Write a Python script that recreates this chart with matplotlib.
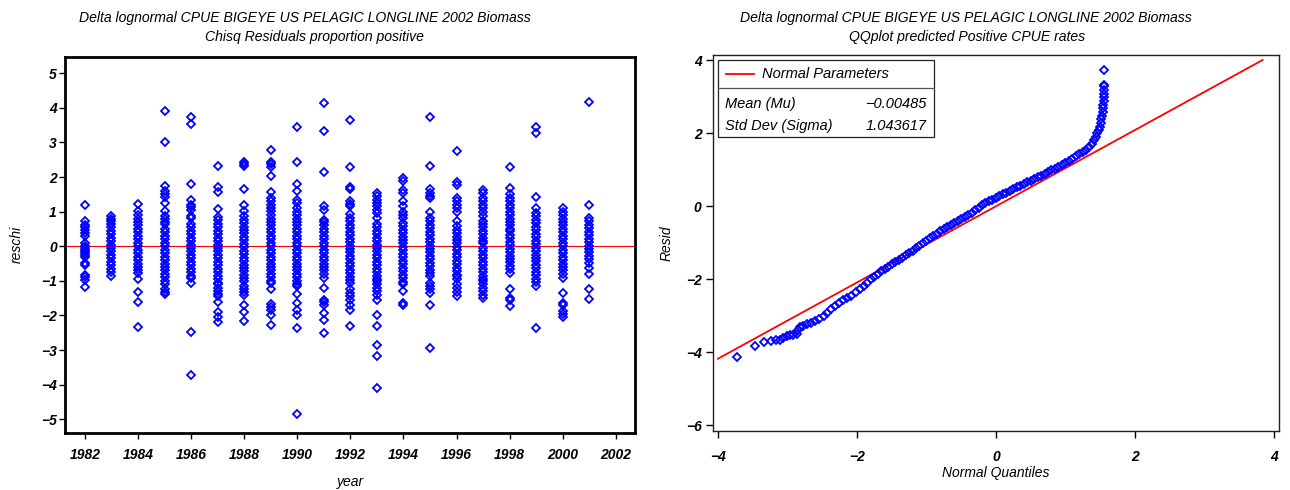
"""
Delta lognormal CPUE, bigeye US pelagic longline 2002:
  left  - chi-square residuals of proportion positive by year
  right - QQ plot of predicted positive CPUE rates
"""

import matplotlib

matplotlib.use("Agg")
import matplotlib.pyplot as plt
from matplotlib.lines import Line2D
from matplotlib.patches import Rectangle

plt.rcParams.update(
    {
        "font.family": ["Liberation Sans", "DejaVu Sans"],
        "font.style": "italic",
        "font.size": 9.5,
        "axes.unicode_minus": True,
    }
)

OUT_PNG = "out.png"
BLUE = "#0000ff"
RED = "#ff0000"

# ---- left panel: reschi by year ----
YEARS = list(range(1982, 2002))
RESCHI_1982 = [1.18, 0.72, 0.62, 0.55, 0.48, 0.38, 0.30, 0.10, 0.02, -0.05, -0.10, -0.15, -0.20, -0.25,
               -0.30, -0.48, -0.55, -0.82, -0.88, -0.98, -1.18]
RESCHI_1983 = [0.87, 0.80, 0.72, 0.65, 0.55, 0.45, 0.35, 0.25, 0.15, 0.05, -0.05, -0.15, -0.25, -0.35,
               -0.45, -0.55, -0.65, -0.75, -0.87]
RESCHI_1984 = [1.23, 1.03, 0.90, 0.80, 0.70, 0.60, 0.50, 0.40, 0.30, 0.20, 0.10, 0.00, -0.10, -0.20,
               -0.30, -0.40, -0.50, -0.60, -0.70, -0.77, -0.96, -1.33, -1.60, -2.34]
RESCHI_1985 = [3.92, 3.00, 1.75, 1.60, 1.50, 1.42, 1.25, 1.01, 0.87, 0.78, 0.70, 0.63, 0.50, 0.40, 0.30,
               0.20, 0.10, 0.00, -0.10, -0.20, -0.30, -0.40, -0.50, -0.60, -0.70, -0.80, -0.90, -1.00,
               -1.10, -1.25, -1.31, -1.37]
RESCHI_1986 = [3.74, 3.52, 1.80, 1.35, 1.20, 1.13, 1.06, 0.87, 0.82, 0.63, 0.55, 0.45, 0.35, 0.25, 0.15,
               0.05, -0.05, -0.15, -0.25, -0.35, -0.45, -0.55, -0.65, -0.75, -0.85, -0.91, -1.06, -2.47,
               -3.72]
RESCHI_1987 = [2.33, 1.71, 1.56, 1.09, 0.85, 0.75, 0.65, 0.55, 0.45, 0.35, 0.25, 0.15, 0.05, -0.05, -0.15,
               -0.25, -0.35, -0.45, -0.55, -0.65, -0.75, -0.85, -0.95, -1.05, -1.10, -1.20, -1.30, -1.38,
               -1.44, -1.62, -1.91, -2.05, -2.19]
RESCHI_1988 = [2.43, 2.37, 2.31, 1.65, 1.20, 1.01, 0.87, 0.77, 0.67, 0.57, 0.47, 0.37, 0.27, 0.17, 0.07,
               -0.03, -0.13, -0.23, -0.33, -0.43, -0.53, -0.63, -0.73, -0.83, -0.93, -1.00, -1.16, -1.25,
               -1.33, -1.40, -1.69, -1.90, -2.15]
RESCHI_1989 = [2.77, 2.44, 2.37, 2.30, 2.04, 1.56, 1.40, 1.30, 1.20, 1.10, 1.01, 0.90, 0.80, 0.70, 0.60,
               0.50, 0.40, 0.30, 0.20, 0.10, 0.00, -0.10, -0.20, -0.30, -0.40, -0.50, -0.60, -0.70, -0.80,
               -0.90, -1.00, -1.06, -1.25, -1.67, -1.75, -1.85, -1.98, -2.28]
RESCHI_1990 = [3.45, 2.43, 1.80, 1.61, 1.35, 1.25, 1.10, 1.00, 0.90, 0.80, 0.70, 0.60, 0.50, 0.40, 0.30,
               0.20, 0.10, 0.00, -0.10, -0.20, -0.30, -0.40, -0.50, -0.60, -0.70, -0.80, -0.90, -1.00,
               -1.10, -1.16, -1.37, -1.64, -1.83, -2.00, -2.36, -4.86]
RESCHI_1991 = [4.13, 3.32, 2.14, 1.15, 1.06, 0.77, 0.70, 0.60, 0.50, 0.40, 0.30, 0.20, 0.10, 0.00, -0.10,
               -0.20, -0.30, -0.40, -0.50, -0.60, -0.70, -0.80, -0.91, -1.20, -1.54, -1.62, -1.69, -1.93,
               -2.14, -2.50]
RESCHI_1992 = [3.66, 2.30, 1.70, 1.65, 1.30, 1.22, 1.15, 0.92, 0.82, 0.72, 0.62, 0.52, 0.42, 0.32, 0.22,
               0.12, 0.02, -0.08, -0.18, -0.28, -0.38, -0.48, -0.58, -0.68, -0.78, -0.88, -0.98, -1.06,
               -1.25, -1.35, -1.45, -1.55, -1.69, -1.83, -2.30]
RESCHI_1993 = [1.54, 1.45, 1.35, 1.25, 1.15, 1.05, 0.95, 0.82, 0.63, 0.55, 0.45, 0.35, 0.25, 0.15, 0.05,
               -0.05, -0.15, -0.25, -0.35, -0.45, -0.55, -0.65, -0.75, -0.85, -0.95, -1.00, -1.10, -1.20,
               -1.30, -1.40, -1.54, -1.99, -2.30, -2.86, -3.18, -4.10]
RESCHI_1994 = [1.98, 1.88, 1.64, 1.54, 1.30, 1.15, 1.00, 0.90, 0.82, 0.68, 0.58, 0.48, 0.38, 0.28, 0.18,
               0.08, -0.02, -0.12, -0.22, -0.32, -0.42, -0.52, -0.62, -0.72, -0.82, -0.92, -1.02, -1.10,
               -1.30, -1.65, -1.70]
RESCHI_1995 = [3.74, 2.33, 1.65, 1.55, 1.45, 1.40, 1.00, 0.82, 0.72, 0.62, 0.52, 0.42, 0.32, 0.22, 0.12,
               0.02, -0.08, -0.18, -0.28, -0.38, -0.48, -0.58, -0.68, -0.78, -0.87, -1.06, -1.15, -1.25,
               -1.35, -1.70, -2.94]
RESCHI_1996 = [2.75, 1.85, 1.78, 1.40, 1.30, 1.20, 1.10, 1.00, 0.72, 0.58, 0.48, 0.38, 0.28, 0.18, 0.08,
               -0.02, -0.12, -0.22, -0.32, -0.42, -0.52, -0.62, -0.72, -0.82, -0.87, -0.96, -1.08, -1.20,
               -1.32, -1.44]
RESCHI_1997 = [1.64, 1.54, 1.40, 1.30, 1.20, 1.10, 1.00, 0.87, 0.72, 0.63, 0.55, 0.45, 0.35, 0.25, 0.15,
               0.08, -0.05, -0.15, -0.25, -0.35, -0.45, -0.55, -0.65, -0.75, -0.85, -0.95, -1.00, -1.10,
               -1.20, -1.30, -1.40, -1.50]
RESCHI_1998 = [2.28, 1.69, 1.50, 1.40, 1.30, 1.20, 1.10, 1.00, 0.90, 0.80, 0.70, 0.60, 0.50, 0.43, 0.33,
               0.23, 0.13, 0.03, -0.07, -0.17, -0.27, -0.37, -0.47, -0.57, -0.67, -0.77, -1.23, -1.50,
               -1.54, -1.72]
RESCHI_1999 = [3.45, 3.27, 1.42, 1.10, 0.96, 0.86, 0.76, 0.66, 0.56, 0.46, 0.36, 0.26, 0.16, 0.06, -0.04,
               -0.14, -0.24, -0.34, -0.44, -0.54, -0.64, -0.74, -0.84, -0.94, -1.04, -1.16, -2.35]
RESCHI_2000 = [1.10, 1.00, 0.90, 0.80, 0.70, 0.60, 0.50, 0.40, 0.30, 0.20, 0.10, 0.00, -0.10, -0.20,
               -0.30, -0.40, -0.50, -0.60, -0.70, -0.80, -0.91, -1.35, -1.64, -1.69, -1.86, -1.96, -2.05]
RESCHI_2001 = [4.17, 1.20, 0.82, 0.72, 0.62, 0.52, 0.42, 0.32, 0.22, 0.12, 0.02, -0.08, -0.18, -0.28,
               -0.38, -0.48, -0.62, -0.79, -1.23, -1.52]

RESCHI = [RESCHI_1982, RESCHI_1983, RESCHI_1984, RESCHI_1985, RESCHI_1986, RESCHI_1987, RESCHI_1988,
          RESCHI_1989, RESCHI_1990, RESCHI_1991, RESCHI_1992, RESCHI_1993, RESCHI_1994, RESCHI_1995,
          RESCHI_1996, RESCHI_1997, RESCHI_1998, RESCHI_1999, RESCHI_2000, RESCHI_2001]

# ---- right panel: normal quantiles vs residuals ----
QQ_X = [-3.72, -3.47, -3.34, -3.24, -3.17, -3.11, -3.06, -3.01, -2.97, -2.92, -2.87, -2.85, -2.82,
        -2.78, -2.72, -2.66, -2.60, -2.54, -2.48, -2.43, -2.38, -2.32, -2.26, -2.20, -2.14, -2.08,
        -2.02, -1.96, -1.90, -1.85, -1.80, -1.75, -1.70, -1.65, -1.60, -1.55, -1.50, -1.45, -1.40,
        -1.35, -1.30, -1.25, -1.20, -1.15, -1.10, -1.05, -1.00, -0.95, -0.90, -0.85, -0.80, -0.75,
        -0.70, -0.65, -0.60, -0.55, -0.50, -0.45, -0.40, -0.35, -0.30, -0.25, -0.20, -0.15, -0.10,
        -0.05, 0.00, 0.05, 0.10, 0.15, 0.20, 0.25, 0.30, 0.35, 0.40, 0.45, 0.50, 0.55, 0.60, 0.65,
        0.70, 0.75, 0.80, 0.85, 0.90, 0.95, 1.00, 1.05, 1.10, 1.15, 1.20, 1.25, 1.30, 1.34, 1.38,
        1.41, 1.44, 1.46, 1.48, 1.50, 1.51, 1.52, 1.53, 1.535, 1.54, 1.545, 1.55, 1.55, 1.555, 1.56,
        1.56, 1.56, 1.56]
QQ_Y = [-4.12, -3.84, -3.71, -3.70, -3.68, -3.66, -3.61, -3.57, -3.54, -3.54, -3.50, -3.40, -3.32,
        -3.28, -3.24, -3.19, -3.14, -3.08, -3.01, -2.93, -2.83, -2.74, -2.65, -2.57, -2.51, -2.45,
        -2.36, -2.28, -2.20, -2.10, -2.01, -1.93, -1.86, -1.79, -1.72, -1.66, -1.59, -1.53, -1.48,
        -1.42, -1.35, -1.29, -1.22, -1.15, -1.09, -1.02, -0.95, -0.88, -0.82, -0.76, -0.69, -0.63,
        -0.57, -0.52, -0.46, -0.41, -0.36, -0.30, -0.24, -0.18, -0.12, -0.05, 0.03, 0.08, 0.13,
        0.18, 0.22, 0.27, 0.32, 0.36, 0.41, 0.46, 0.51, 0.55, 0.60, 0.65, 0.70, 0.74, 0.79, 0.83,
        0.88, 0.93, 0.98, 1.02, 1.07, 1.12, 1.17, 1.23, 1.29, 1.36, 1.42, 1.48, 1.55, 1.62, 1.70,
        1.80, 1.90, 1.99, 2.08, 2.18, 2.28, 2.38, 2.48, 2.58, 2.68, 2.78, 2.88, 2.98, 3.08, 3.18,
        3.28, 3.33, 3.72]

MU = -0.00485
SIGMA = 1.043617
NORMAL_LINE_X = [-4.0, 3.84]

TITLE_1 = "Delta lognormal CPUE BIGEYE US PELAGIC LONGLINE 2002 Biomass"
LEFT_TITLE_2 = "Chisq Residuals proportion positive"
RIGHT_TITLE_2 = "QQplot predicted Positive CPUE rates"


def diamond_kw(size=4.0):
    return dict(marker="D", ms=size, mfc="none", mec=BLUE, mew=1.3, ls="none")


def style_ticks(ax):
    for lbl in ax.get_xticklabels() + ax.get_yticklabels():
        lbl.set_fontweight("bold")
        lbl.set_fontsize(10)


def main():
    fig = plt.figure(figsize=(12.9, 4.9), dpi=100)

    # ---------------- left: residuals by year ----------------
    ax1 = fig.add_axes([0.0504, 0.1163, 0.4418, 0.768])
    xs, ys = [], []
    for yr, vals in zip(YEARS, RESCHI):
        xs.extend([yr] * len(vals))
        ys.extend(vals)
    ax1.axhline(0, color=RED, lw=0.8, zorder=1)
    ax1.plot(xs, ys, zorder=2, **diamond_kw())

    ax1.set_xlim(1981.25, 2002.72)
    ax1.set_ylim(-5.40, 5.48)
    ax1.set_xticks(range(1982, 2003, 2))
    ax1.set_yticks(range(-5, 6))
    for sp in ax1.spines.values():
        sp.set_linewidth(2.0)
    ax1.tick_params(direction="out", length=4, width=1, pad=2)
    ax1.tick_params(axis="x", pad=7)
    style_ticks(ax1)
    ax1.set_xlabel("year", fontsize=10, labelpad=9)
    ax1.set_ylabel("reschi", fontsize=10, labelpad=12)

    # ---------------- right: QQ plot ----------------
    ax2 = fig.add_axes([0.5525, 0.1204, 0.4390, 0.7674])
    line_y = [MU + SIGMA * x for x in NORMAL_LINE_X]
    ax2.plot(NORMAL_LINE_X, line_y, color=RED, lw=1.3, zorder=1)
    ax2.plot(QQ_X, QQ_Y, zorder=2, **diamond_kw(4.3))

    ax2.set_xlim(-4.076, 4.076)
    ax2.set_ylim(-6.16, 4.14)
    ax2.set_xticks(range(-4, 5, 2))
    ax2.set_yticks(range(-6, 5, 2))
    for sp in ax2.spines.values():
        sp.set_linewidth(1.0)
        sp.set_color("#222222")
    ax2.tick_params(direction="out", length=5, width=1, pad=3)
    ax2.tick_params(axis="x", pad=9)
    style_ticks(ax2)
    ax2.set_xlabel("Normal Quantiles", fontsize=10, labelpad=1)
    ax2.set_ylabel("Resid", fontsize=10, labelpad=9)

    # legend box with the normal parameters
    tr = ax2.transAxes
    ax2.add_patch(Rectangle((0.0088, 0.782), 0.382, 0.204, transform=tr,
                            fill=False, ec="#222222", lw=0.9, zorder=5))
    ax2.add_line(Line2D([0.0088, 0.391], [0.912, 0.912], transform=tr,
                        color="#555555", lw=0.9, zorder=5))
    ax2.add_line(Line2D([0.0235, 0.073], [0.949, 0.949], transform=tr,
                        color=RED, lw=1.3, zorder=5))
    ax2.text(0.0865, 0.949, "Normal Parameters", transform=tr, va="center", fontsize=10.5)
    ax2.text(0.0217, 0.869, "Mean (Mu)", transform=tr, va="center", fontsize=10.5)
    ax2.text(0.377, 0.869, "\u2212" + f"{abs(MU):.5f}", transform=tr, va="center",
             ha="right", fontsize=10.5)
    ax2.text(0.0217, 0.812, "Std Dev (Sigma)", transform=tr, va="center", fontsize=10.5)
    ax2.text(0.377, 0.812, f"{SIGMA:.6f}", transform=tr, va="center", ha="right", fontsize=10.5)

    # titles
    fig.text(0.2364, 0.9551, TITLE_1, ha="center", va="baseline", fontsize=10.1)
    fig.text(0.2434, 0.9163, LEFT_TITLE_2, ha="center", va="baseline", fontsize=10.1)
    fig.text(0.7488, 0.9551, TITLE_1, ha="center", va="baseline", fontsize=10.1)
    fig.text(0.7496, 0.9163, RIGHT_TITLE_2, ha="center", va="baseline", fontsize=10.1)

    fig.savefig(OUT_PNG, dpi=100)
    plt.close(fig)
    print(f"Saved {OUT_PNG}")


if __name__ == "__main__":
    main()
